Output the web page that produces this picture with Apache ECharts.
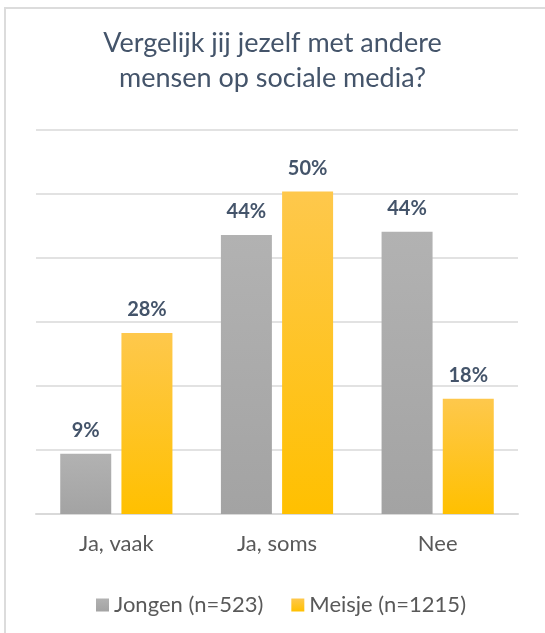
<!DOCTYPE html>
<html>
<head>
<meta charset="utf-8">
<script src="https://cdn.jsdelivr.net/npm/echarts@6/dist/echarts.min.js"></script>
<style>html,body{margin:0;padding:0;background:#fff}#c{width:545px;height:633px}</style>
</head>
<body>
<div id="c"></div>
<script>
const titleText = 'Vergelijk jij jezelf met andere\nmensen op sociale media?';
const categories = ['Ja, vaak', 'Ja, soms', 'Nee'];
const seriesNames = ['Jongen (n=523)', 'Meisje (n=1215)'];
const jongen = [9.4, 43.6, 44.1];
const meisje = [28.3, 50.4, 18.0];

const FONT = 'Lato, "Noto Sans", sans-serif';
const chart = echarts.init(document.getElementById('c'));
const grad = (top, bottom) => new echarts.graphic.LinearGradient(0, 0, 0, 1, [
  {offset: 0, color: top}, {offset: 1, color: bottom}
]);
const label = {
  show: true, position: 'top', distance: 13,
  formatter: p => Math.round(p.value) + '%',
  color: '#44546A', fontFamily: FONT, fontWeight: 'bold', fontSize: 20
};
chart.setOption({
  animation: false,
  backgroundColor: '#fff',
  graphic: [{
    type: 'rect', shape: {x: 5, y: 8, width: 700, height: 800},
    style: {fill: 'none', stroke: '#dcdcdc', lineWidth: 2}, silent: true, z: -10
  }],
  title: {
    text: titleText, left: 'center', top: 21,
    textStyle: {color: '#44546A', fontFamily: FONT, fontWeight: 'normal', fontSize: 27, lineHeight: 35}
  },
  legend: {
    left: 91, top: 589, itemWidth: 13, itemHeight: 13, itemGap: 28,
    icon: 'rect',
    textStyle: {color: '#595959', fontFamily: FONT, fontSize: 22},
    data: seriesNames
  },
  grid: {left: 36, right: 27, top: 130, bottom: 119},
  xAxis: {
    type: 'category', data: categories,
    axisLine: {lineStyle: {color: '#d9d9d9', width: 2}},
    axisTick: {show: false},
    axisLabel: {color: '#595959', fontFamily: FONT, fontSize: 22, margin: 19}
  },
  yAxis: {
    type: 'value', min: 0, max: 60, interval: 10,
    axisLabel: {show: false}, axisLine: {show: false}, axisTick: {show: false},
    splitLine: {lineStyle: {color: '#d9d9d9', width: 1.5}}
  },
  series: [
    {name: seriesNames[0], type: 'bar', data: jongen, barWidth: 51, barGap: '20%',
     itemStyle: {color: grad('#b2b2b2', '#a3a3a3')}, label: label},
    {name: seriesNames[1], type: 'bar', data: meisje, barWidth: 51,
     itemStyle: {color: grad('#fec84c', '#ffc000')}, label: label}
  ]
});
</script>
</body>
</html>
